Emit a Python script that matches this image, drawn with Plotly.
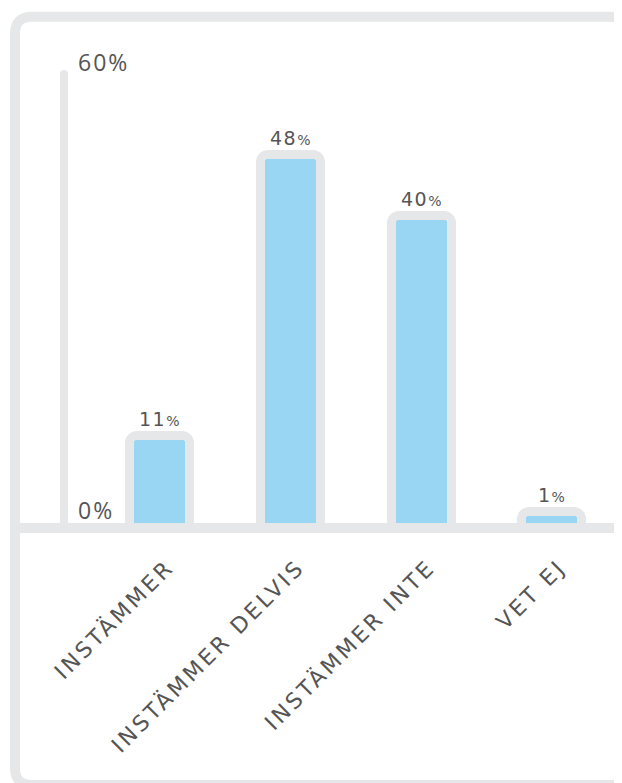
import plotly.graph_objects as go

# ---- data ----
categories = ["INSTÄMMER", "INSTÄMMER DELVIS", "INSTÄMMER INTE", "VET EJ"]
values = [11, 48, 40, 1]
y_tick_values = [0, 60]
y_tick_labels = ["0%", "60%"]

# ---- geometry / style (page pixel coordinates) ----
W, H = 622, 783
OFF = 8                                   # default body margin of the html page
P_LEFT, P_TOP, P_BOTTOM = 64, 40, 540     # plot area on the page
ML = P_LEFT - OFF
MT = P_TOP - OFF
MR = 0
MB = H - (P_BOTTOM - OFF)
PW, PH = W - ML - MR, H - MT - MB
ZERO_PX, K = 524.0, 7.6                   # page pixel of y=0, pixels per percent
C0, STEP = 159.6, 130.7                   # page pixel of first category, step

GRAY = "#e6e7e8"
BLUE = "#99d6f4"
TXT = "#555555"


def px(p):
    return (p - OFF - ML) / PW


def py(p):
    return (MT + PH - (p - OFF)) / PH


y_range = [(ZERO_PX - P_BOTTOM) / K, (ZERO_PX - P_TOP) / K]
x_start = -(C0 - P_LEFT) / STEP
x_range = [x_start, x_start + PW / STEP]
bar_w = 51 / STEP

fig = go.Figure()
# gray rounded outline (behind)
fig.add_trace(go.Bar(
    x=categories, y=values, width=bar_w,
    marker=dict(color=GRAY, line=dict(color=GRAY, width=18), cornerradius=3),
    hoverinfo="skip", showlegend=False,
))
# blue fill (front)
fig.add_trace(go.Bar(
    x=categories, y=values, width=bar_w,
    marker=dict(color=BLUE, line=dict(width=0), cornerradius=3),
    showlegend=False,
))


def rounded_rect(x0, y0, x1, y1, r):
    def P(a, b):
        return f"{px(a):.5f},{py(b):.5f}"
    return (f"M {P(x0 + r, y0)} L {P(x1 - r, y0)} Q {P(x1, y0)} {P(x1, y0 + r)} "
            f"L {P(x1, y1 - r)} Q {P(x1, y1)} {P(x1 - r, y1)} "
            f"L {P(x0 + r, y1)} Q {P(x0, y1)} {P(x0, y1 - r)} "
            f"L {P(x0, y0 + r)} Q {P(x0, y0)} {P(x0 + r, y0)} Z")


shapes = [
    dict(type="path", xref="paper", yref="paper",
         path=rounded_rect(15, 16.7, 627, 785, 17),
         line=dict(color=GRAY, width=10), layer="above"),
    dict(type="line", xref="paper", yref="paper",
         x0=px(64), x1=px(64), y0=py(74), y1=py(528),
         line=dict(color=GRAY, width=8), layer="above"),
    dict(type="circle", xref="paper", yref="paper",
         x0=px(60), x1=px(68), y0=py(70), y1=py(78),
         fillcolor=GRAY, line=dict(width=0), layer="above"),
    dict(type="line", xref="paper", yref="paper",
         x0=px(15), x1=px(640), y0=py(528), y1=py(528),
         line=dict(color=GRAY, width=10), layer="above"),
]

annotations = []
for c, v in zip(categories, values):
    annotations.append(dict(
        x=c, y=v, xref="x", yref="y", showarrow=False,
        yanchor="bottom", xanchor="center", yshift=8,
        text=f"<span style='letter-spacing:1.5px'>{v}</span><span style='font-size:14px'>%</span>",
        font=dict(family="DejaVu Sans", size=19, color=TXT),
    ))

y_label_shift = [14, 6]
for tv, tl, sh in zip(y_tick_values, y_tick_labels, y_label_shift):
    annotations.append(dict(
        x=px(76), y=tv, xref="paper", yref="y", showarrow=False,
        xanchor="left", yanchor="middle", yshift=sh,
        text=f"<span style='letter-spacing:2px'>{tl}</span>",
        font=dict(family="Open Sans", size=23, color=TXT),
    ))

fig.update_layout(
    width=W, height=H,
    margin=dict(l=ML, r=MR, t=MT, b=MB, pad=0),
    paper_bgcolor="white", plot_bgcolor="rgba(0,0,0,0)",
    barmode="overlay", bargap=0,
    showlegend=False,
    shapes=shapes, annotations=annotations,
    xaxis=dict(
        type="category", range=x_range, showgrid=False, zeroline=False,
        showline=False, ticks="", tickangle=-45,
        tickvals=categories,
        ticktext=[f"<span style='letter-spacing:3px'>{c}</span>" for c in categories],
        tickfont=dict(family="DejaVu Sans", size=22, color=TXT),
        ticklabelstandoff=9, ticklabelshift=8,
        fixedrange=True,
    ),
    yaxis=dict(
        range=y_range, showgrid=False, zeroline=False, showline=False,
        showticklabels=False, ticks="", fixedrange=True,
    ),
)

fig.write_html("out.html", config={"displayModeBar": False})
